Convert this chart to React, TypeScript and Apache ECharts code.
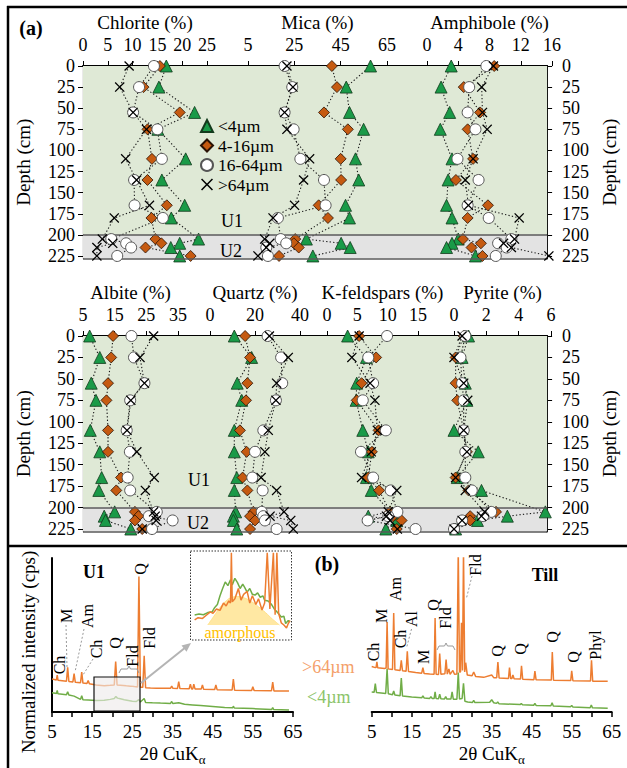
import React, { useEffect, useRef } from 'react';
import * as echarts from 'echarts';

const FONT = "'Liberation Serif', 'Times New Roman', Times, serif";

// ---------- depth profile data ----------
const depths = [0, 25, 55, 75, 110, 135, 165, 180, 205, 210, 215, 225];
const unitBoundary = 200;
const depthMax = 228;
const depthTicks = [0, 25, 50, 75, 100, 125, 150, 175, 200, 225];
const fractions = ['<4µm', '4-16µm', '16-64µm', '>64µm'];

const chlorite4 = [16.8, 15.3, 22.5, 15.1, 20.7, 15.9, 20.5, 17.8, 23.3, 19.5, 17.7, 19.5];
const chlorite16 = [15.5, 12.2, 19.5, 13.0, 13.9, 13.0, 16.9, 13.8, 14.6, 15.8, 12.6, 21.7];
const chlorite64 = [14.3, 11.3, 10.1, 15.0, 15.9, 10.3, 10.4, 16.1, 5.7, 8.7, 9.7, 6.9];
const chloriteXL = [9.3, 7.4, 10.1, 12.8, 8.6, 10.8, 13.4, 6.3, 3.9, 6.0, 2.8, 2.8];

const mica4 = [57.9, 47.4, 48.8, 54.9, 51.4, 52.8, 47.1, 48.8, 30.2, 45.2, 49.1, 33.0];
const mica16 = [41.2, 43.4, 37.8, 48.1, 45.0, 45.2, 35.5, 39.5, 25.4, 24.8, 26.9, 18.4];
const mica64 = [20.8, 24.1, 20.8, 24.7, 27.6, 37.8, 38.5, 17.9, 19.1, 21.5, 12.9, 13.6];
const micaXL = [21.8, 24.4, 20.8, 21.8, 31.6, 29.0, 25.1, 15.8, 12.2, 14.4, 12.9, 9.3];

const amph4 = [3.1, 1.8, 2.9, 1.7, 3.2, 2.7, 2.5, 3.2, 4.0, 3.2, 2.5, 6.2];
const amph16 = [8.6, 4.7, 6.8, 5.2, 5.9, 3.7, 7.8, 5.2, 4.6, 6.9, 5.7, 7.1];
const amph64 = [7.6, 5.4, 5.2, 6.2, 3.9, 6.6, 5.2, 7.9, 10.8, 9.1, 10.2, 8.8];
const amphXL = [8.5, 7.0, 7.1, 7.7, 5.9, 4.9, 5.3, 11.8, 11.2, 9.8, 10.8, 15.6];

const albite4 = [7.1, 10.3, 7.6, 9.1, 7.3, 10.3, 10.9, 10.0, 15.0, 11.7, 12.1, 20.1];
const albite16 = [14.5, 13.9, 12.9, 12.4, 12.9, 12.9, 17.0, 15.5, 21.4, 22.5, 21.4, 23.7];
const albite64 = [20.3, 21.1, 24.4, 19.9, 18.8, 19.8, 19.1, 19.9, 28.3, 25.8, 33.3, 26.8];
const albiteXL = [27.3, 23.0, 24.4, 20.1, 18.9, 22.0, 27.5, 24.7, 27.3, 27.8, 28.1, 23.7];

const quartz4 = [10.8, 18.5, 12.1, 14.1, 10.8, 10.8, 11.9, 10.8, 11.4, 10.4, 10.4, 11.9];
const quartz16 = [15.6, 17.8, 16.6, 16.0, 13.3, 16.3, 14.5, 16.6, 19.3, 17.8, 20.0, 17.8];
const quartz64 = [25.6, 31.6, 32.1, 29.3, 23.7, 20.0, 18.8, 23.4, 23.0, 23.7, 24.4, 29.6];
const quartzXL = [26.4, 34.8, 29.6, 29.3, 25.9, 24.4, 22.7, 29.6, 32.9, 26.7, 35.9, 37.0];

const kfeld4 = [3.4, 6.5, 4.9, 4.8, 5.9, 6.8, 6.5, 7.3, 10.4, 6.8, 11.5, 9.7];
const kfeld16 = [5.3, 8.1, 5.7, 4.9, 8.5, 7.4, 6.8, 8.6, 10.4, 10.9, 12.3, 11.5];
const kfeld64 = [9.9, 6.8, 7.6, 5.9, 9.7, 5.6, 7.6, 10.5, 11.6, 10.1, 6.7, 14.6];
const kfeldXL = [5.3, 4.1, 7.1, 7.9, 8.3, 7.3, 5.7, 11.5, 10.1, 9.8, 10.4, 11.6];

const pyrite4 = [0.9, 0.5, 0.7, 0.8, 0.0, 1.5, 0.2, 1.7, 5.65, 3.3, 1.45, 0.1];
const pyrite16 = [0.6, 0.1, 0.1, 0.2, 0.6, 0.8, 0.1, 0.9, 2.6, 1.0, 1.0, 0.0];
const pyrite64 = [0.7, 0.4, 0.5, 0.6, 0.6, 0.7, 0.7, 1.1, 2.3, 1.8, 0.5, 0.0];
const pyriteXL = [0.5, 0.0, 0.6, 0.85, 0.6, 0.8, 0.1, 0.7, 1.9, 1.7, 0.5, 0.0];

// ---------- XRD data: [2theta, normalized intensity] ----------
const u1Coarse = [
  [5, 21.5], [5.8, 21], [6.1, 20.8], [6.3, 24], [6.5, 20.6], [8.6, 20], [8.9, 29], [9.2, 19.8], [10.2, 19.5],
  [10.5, 25], [10.8, 19.3], [12.1, 19], [12.4, 26], [12.7, 18.8], [13.7, 18.5], [14, 20.5], [14.3, 18.3],
  [16, 17.5], [18, 17], [19.5, 17.3], [20.5, 17.6], [20.85, 32.7], [21.2, 17.6], [22, 17.4], [23.5, 17],
  [24.5, 16.8], [25.5, 16.5], [26.3, 16.3], [26.64, 88], [27, 16], [27.6, 16], [27.95, 36.5], [28.3, 15.8],
  [29.5, 15.6], [31, 15.5], [34.5, 15.4], [34.8, 16.9], [35.1, 15.4], [36.25, 15.3], [36.55, 19.7],
  [36.85, 15.2], [39.15, 15.1], [39.45, 18], [39.75, 15], [40.05, 15], [40.3, 18], [40.6, 15], [42.15, 14.9],
  [42.45, 17.5], [42.75, 14.8], [45.5, 14.6], [45.8, 17.5], [46.1, 14.5], [49.85, 14.3], [50.15, 21.4],
  [50.45, 14.2], [54.7, 14], [55, 16.4], [55.3, 13.9], [59.65, 13.8], [59.95, 19.4], [60.25, 13.7], [64, 13.6],
];
const u1Fine = [
  [5, 12.5], [5.8, 12.2], [6.1, 12], [6.3, 14], [6.5, 11.8], [8.6, 11.2], [8.9, 13.2], [9.2, 11], [10.5, 10.3],
  [12.1, 8.2], [12.4, 10.5], [12.7, 8], [14, 7.8], [16, 7.5], [18, 7.6], [19.5, 8.2], [20.5, 8.8], [20.9, 10],
  [21.3, 9], [22, 8.6], [23, 8], [24, 7.5], [25, 7], [26, 6.8], [26.6, 8], [27, 6.5], [27.95, 8.8], [28.3, 6.2],
  [30, 6], [32, 5.8], [34.5, 5.6], [34.8, 6.8], [35.1, 5.5], [36.55, 6], [38, 5], [40, 4.6], [42, 4.2],
  [45, 3.6], [48, 3], [50, 2.7], [50.15, 3.8], [50.4, 2.6], [55, 2.2], [59.7, 1.7], [59.95, 2.8], [60.2, 1.6],
  [64, 1.3],
];
const tillCoarse = [
  [5, 29.5], [5.9, 28.8], [6.1, 29], [6.3, 32.5], [6.5, 28.7], [8.2, 28.3], [8.6, 28.5], [8.85, 58.4], [9.1, 28],
  [10.2, 27.6], [10.5, 64.3], [10.8, 27.4], [12.1, 27], [12.4, 33.5], [12.7, 26.8], [13.6, 26.5], [13.9, 39.4],
  [14.2, 26.3], [16, 25.6], [17.5, 25.2], [17.8, 28.8], [18.1, 25], [19.5, 24.7], [20.6, 24.5], [20.85, 61],
  [21.1, 24.5], [21.7, 24.4], [22, 38], [22.3, 24.5], [23.3, 24.8], [23.6, 34], [23.9, 24.6], [24.3, 28],
  [24.6, 24.4], [25.3, 27], [25.7, 24.5], [26.3, 24.6], [26.64, 105], [26.95, 26], [27.2, 26], [27.45, 58],
  [27.7, 27], [27.95, 105], [28.25, 26], [28.5, 32], [28.9, 24], [30.1, 23.5], [30.5, 26], [31, 23],
  [33, 22.5], [35, 24], [35.5, 22.3], [36.25, 22.2], [36.55, 32.5], [36.85, 22.1], [39.2, 21.8], [39.45, 28.8],
  [39.75, 21.7], [40.05, 21.7], [40.3, 24], [40.6, 21.6], [42.2, 21.4], [42.45, 30], [42.75, 21.3],
  [45.55, 21], [45.8, 26.6], [46.1, 20.9], [49.9, 20.7], [50.15, 39], [50.45, 20.6], [54.75, 20.4], [55, 26.8],
  [55.3, 20.3], [59.7, 20.1], [59.95, 33.5], [60.25, 20], [64, 19.9],
];
const tillFine = [
  [5, 13], [5.6, 12.8], [5.9, 18.4], [6.2, 12.6], [8.5, 12], [8.85, 28], [9.15, 11.8], [10.2, 11.2], [10.5, 13.6],
  [10.8, 11], [12.1, 10.6], [12.4, 22], [12.7, 10.4], [15, 9.7], [17.5, 9.2], [17.8, 10.5], [18.1, 9.1],
  [19.5, 8.8], [19.8, 10], [20.1, 8.8], [20.6, 8.7], [20.85, 13], [21.1, 8.7], [21.7, 8.6], [22, 11.5],
  [22.3, 8.6], [23.2, 8.5], [23.5, 10], [23.8, 8.4], [24.8, 8.4], [25.1, 13], [25.4, 8.3], [26.3, 8.3],
  [26.64, 25.6], [26.95, 8.5], [27.6, 8.8], [27.95, 18.6], [28.3, 7], [29, 6.5], [30.2, 6.2], [30.5, 7.5],
  [30.8, 6.1], [34.5, 6.3], [35, 8], [35.5, 6], [36.2, 5.6], [36.5, 6.5], [36.8, 5.4], [42.1, 4.8],
  [42.4, 5.5], [42.7, 4.7], [45.5, 4.4], [45.8, 5.5], [46.1, 4.3], [49.8, 4], [50.1, 6], [50.4, 3.9],
  [54.7, 3.4], [55, 4.2], [55.3, 3.3], [59.6, 2.8], [59.9, 4.5], [60.2, 2.7], [64, 2.4],
];
// inset (magnified 16–27° region)
const insetFine = [
  [16.3, 13.7], [16.8, 15], [17.3, 14], [17.8, 17], [18.3, 18], [18.6, 24], [18.9, 28], [19.2, 40], [19.5, 50],
  [19.8, 59], [20.1, 54], [20.4, 62], [20.6, 55], [20.9, 64], [21.2, 58], [21.5, 50], [21.8, 56], [22, 52],
  [22.3, 45], [22.6, 50], [22.9, 42], [23.2, 41], [23.5, 44], [23.8, 38], [24.1, 40], [24.3, 34], [24.7, 33],
  [25.1, 28], [25.4, 22], [25.7, 18], [26, 14], [26.2, 11], [26.5, 12], [26.7, 2], [27, 6], [27.2, 4.5],
];
const insetCoarse = [
  [16.3, 7], [16.7, 10], [17.2, 9], [17.6, 13], [18.1, 18], [18.4, 16], [18.8, 22], [19.2, 20], [19.6, 30],
  [19.9, 26], [20.2, 33], [20.4, 30], [20.5, 99], [20.6, 32], [20.9, 36], [21.3, 50], [21.6, 34], [21.9, 42],
  [22.3, 46], [22.6, 30], [22.9, 40], [23.3, 28], [23.6, 36], [24, 20.5], [24.3, 30], [24.6, 99], [24.9, 22],
  [25.3, 99], [25.5, 14], [25.7, 99], [25.9, 16], [26.2, 3], [26.5, 0], [26.8, -4], [27.0, 2], [27.2, 6],
];
const insetAmorphous = [
  [17.8, 0], [18.5, 12], [19.2, 24], [19.9, 33], [20.6, 38], [21.2, 39], [22, 37], [22.8, 32], [23.6, 25],
  [24.4, 17], [25.2, 8], [26, 0],
];
const twoThetaLabels = [5, 15, 25, 35, 45, 55, 65];
const twoThetaTicks = [5, 10, 15, 20, 25, 30, 35, 40, 45, 50, 55, 60, 65];

// ---------- styles ----------
const XPATH = 'path://M0,0.9L0.9,0L5,4.1L9.1,0L10,0.9L5.9,5L10,9.1L9.1,10L5,5.9L0.9,10L0,9.1L4.1,5Z';
const markerStyles = [
  { symbol: 'triangle', size: 12, color: '#1a9a48', border: '#123a1c', bw: 0.8 },
  { symbol: 'diamond', size: 11, color: '#c55a11', border: '#2a1204', bw: 0.8 },
  { symbol: 'circle', size: 11, color: '#ffffff', border: '#555555', bw: 1 },
  { symbol: XPATH, size: 10, color: '#000000', border: '#000000', bw: 0 },
];
const ORANGE = '#ed7d31';
const GREEN = '#70ad47';

const txt = (text: string, x: number, y: number, size: number, opts: any = {}) => ({
  type: 'text',
  x,
  y,
  rotation: opts.rotate ? Math.PI / 2 : 0,
  z: 60,
  silent: true,
  style: {
    text,
    fill: opts.color || '#000',
    font: `${opts.bold ? 'bold ' : ''}${size}px ${FONT}`,
    align: opts.align || 'center',
    textAlign: opts.align || 'center',
    verticalAlign: 'middle',
    textVerticalAlign: 'middle',
  },
});
const dline = (x1: number, y1: number, x2: number, y2: number) => ({
  type: 'line', z: 55, silent: true,
  shape: { x1, y1, x2, y2 },
  style: { stroke: '#9a9a9a', lineWidth: 1, lineDash: [2, 2] },
});
const brace = (xa: number, xb: number, y: number) => {
  const m = (xa + xb) / 2;
  return {
    type: 'polyline', z: 55, silent: true,
    shape: { points: [[xa, y + 4], [xa + 2, y], [m - 1.5, y], [m, y - 3], [m + 1.5, y], [xb - 2, y], [xb, y + 4]] },
    style: { stroke: '#9a9a9a', lineWidth: 1, fill: 'none' },
  };
};

function buildOption() {
  const ROW1 = { top: 66, height: 192.5 };
  const ROW2 = { top: 336, height: 195.6 };
  const grid: any[] = [
    { left: 83, width: 469, ...ROW1 },
    { left: 83, width: 124, ...ROW1 },
    { left: 248, width: 139, ...ROW1 },
    { left: 427, width: 125, ...ROW1 },
    { left: 83, width: 469, ...ROW2 },
    { left: 83, width: 95, ...ROW2 },
    { left: 210, width: 90, ...ROW2 },
    { left: 327, width: 111, ...ROW2 },
    { left: 454, width: 97, ...ROW2 },
    { left: 52, top: 558, width: 241, height: 154 },
    { left: 371.7, top: 558, width: 240, height: 154 },
    { left: 192, top: 552, width: 98, height: 80.3 },
  ];

  const panels = [
    { g: 1, name: 'Chlorite (%)', min: 0, max: 25, ticks: [0, 5, 10, 15, 20, 25], vals: [chlorite4, chlorite16, chlorite64, chloriteXL] },
    { g: 2, name: 'Mica (%)', min: 5, max: 65, ticks: [5, 25, 45, 65], vals: [mica4, mica16, mica64, micaXL] },
    { g: 3, name: 'Amphibole (%)', min: 0, max: 16, ticks: [0, 4, 8, 12, 16], vals: [amph4, amph16, amph64, amphXL] },
    { g: 5, name: 'Albite (%)', min: 5, max: 35, ticks: [5, 15, 25, 35], vals: [albite4, albite16, albite64, albiteXL] },
    { g: 6, name: 'Quartz (%)', min: 0, max: 40, ticks: [0, 20, 40], vals: [quartz4, quartz16, quartz64, quartzXL] },
    { g: 7, name: 'K-feldspars (%)', min: 0, max: 18.3, ticks: [0, 5, 10, 15], vals: [kfeld4, kfeld16, kfeld64, kfeldXL] },
    { g: 8, name: 'Pyrite (%)', min: 0, max: 6, ticks: [0, 2, 4, 6], vals: [pyrite4, pyrite16, pyrite64, pyriteXL] },
  ];

  const xAxis: any[] = [];
  const yAxis: any[] = [];
  const hiddenX = (gi: number, min: number, max: number) => ({ type: 'value', gridIndex: gi, min, max, show: false });
  const hiddenY = (gi: number, min: number, max: number, inverse = false) => ({ type: 'value', gridIndex: gi, min, max, inverse, show: false });
  const topLine = (gi: number) => ({
    type: 'value', gridIndex: gi, position: 'top', min: 0, max: 1,
    axisLine: { show: true, onZero: false, lineStyle: { color: '#000', width: 2 } },
    axisTick: { show: false }, axisLabel: { show: false }, splitLine: { show: false },
  });
  const depthAxis = (gi: number, pos: 'left' | 'right') => ({
    type: 'value', gridIndex: gi, position: pos, min: 0, max: depthMax, inverse: true,
    name: 'Depth (cm)', nameLocation: 'middle', nameRotate: 90, nameGap: pos === 'left' ? 50 : 52,
    nameTextStyle: { fontSize: 19, fontFamily: FONT, color: '#000' },
    axisLine: { show: true, onZero: false, lineStyle: { color: pos === 'left' ? '#333' : '#000', width: pos === 'left' ? 1.2 : 2 } },
    axisTick: { show: true, length: 5, lineStyle: { color: '#000' }, customValues: depthTicks },
    axisLabel: { show: true, fontSize: 18, fontFamily: FONT, color: '#000', margin: pos === 'left' ? 8 : 15, customValues: depthTicks },
    splitLine: { show: false },
  });

  for (let gi = 0; gi < grid.length; gi++) {
    const p = panels.find((q) => q.g === gi);
    if (gi === 0 || gi === 4) {
      xAxis.push(topLine(gi));
      yAxis.push(depthAxis(gi, 'left'));
    } else if (p) {
      xAxis.push({
        type: 'value', gridIndex: gi, position: 'top', min: p.min, max: p.max,
        name: p.name, nameLocation: 'middle', nameGap: 34,
        nameTextStyle: { fontSize: 19, fontFamily: FONT, color: '#000' },
        axisLine: { show: false, onZero: false },
        axisTick: { show: true, length: 5, lineStyle: { color: '#000', width: 1 }, customValues: p.ticks },
        axisLabel: { show: true, fontSize: 18, fontFamily: FONT, color: '#000', margin: 12, customValues: p.ticks },
        splitLine: { show: false },
      });
      yAxis.push(hiddenY(gi, 0, depthMax, true));
    } else if (gi === 9 || gi === 10) {
      xAxis.push({
        type: 'value', gridIndex: gi, position: 'bottom', min: 5, max: 65,
        name: '2θ CuK{s|α}', nameLocation: 'middle', nameGap: 26,
        nameTextStyle: {
          fontSize: 19, fontFamily: FONT, color: '#000', lineHeight: 24,
          rich: { s: { fontSize: 13, fontFamily: FONT, lineHeight: 13, verticalAlign: 'bottom', color: '#000' } },
        },
        axisLine: { show: true, onZero: false, lineStyle: { color: '#000', width: 2 } },
        axisTick: { show: true, length: 5, lineStyle: { color: '#000', width: 1.5 }, customValues: twoThetaTicks },
        axisLabel: { show: true, fontSize: 19, fontFamily: FONT, color: '#000', margin: 10, customValues: twoThetaLabels },
        splitLine: { show: false },
      });
      if (gi === 9) {
        yAxis.push({
          type: 'value', gridIndex: gi, min: 0, max: 100,
          axisLine: { show: true, onZero: false, lineStyle: { color: '#000', width: 2 } },
          axisTick: { show: false }, axisLabel: { show: false }, splitLine: { show: false },
        });
      } else {
        yAxis.push(hiddenY(gi, 0, 100));
      }
    } else {
      xAxis.push(hiddenX(gi, 16, 27.2));
      yAxis.push(hiddenY(gi, -10, 100));
    }
  }
  yAxis.push(depthAxis(0, 'right')); // 12
  yAxis.push(depthAxis(4, 'right')); // 13

  const series: any[] = [];
  [0, 4].forEach((gi) => {
    series.push({
      type: 'line', name: `bg${gi}`, xAxisIndex: gi, yAxisIndex: gi, data: [[0.5, 0]],
      symbol: 'none', lineStyle: { opacity: 0 }, silent: true, z: 0,
      markArea: {
        silent: true,
        data: [
          [{ yAxis: 0, itemStyle: { color: '#dfe9d6' } }, { yAxis: unitBoundary }],
          [{ yAxis: unitBoundary, itemStyle: { color: '#e3e3e3' } }, { yAxis: depthMax }],
        ],
      },
      markLine: {
        silent: true, symbol: ['none', 'none'], label: { show: false },
        lineStyle: { color: '#5a5a5a', width: 1.5, type: 'solid' },
        data: [{ yAxis: unitBoundary }, { yAxis: depthMax }],
      },
    });
  });

  panels.forEach((p) => {
    p.vals.forEach((vals, fi) => {
      series.push({
        type: 'line', name: `${p.name}-${fi}-line`, xAxisIndex: p.g, yAxisIndex: p.g,
        data: vals.map((v, i) => [v, depths[i]]), symbol: 'none', clip: false, silent: true, z: 2,
        lineStyle: { color: '#1a1a1a', width: 1.1, type: [1.3, 2.2] },
      });
    });
  });
  panels.forEach((p) => {
    p.vals.forEach((vals, fi) => {
      const m = markerStyles[fi];
      series.push({
        type: 'scatter', name: fractions[fi], xAxisIndex: p.g, yAxisIndex: p.g,
        data: vals.map((v, i) => [v, depths[i]]), symbol: m.symbol, symbolSize: m.size, clip: false, z: 3 + fi,
        itemStyle: { color: m.color, borderColor: m.border, borderWidth: m.bw, opacity: 1 },
      });
    });
  });

  const xrdLine = (name: string, gi: number, data: number[][], color: string, z = 4) => ({
    type: 'line', name, xAxisIndex: gi, yAxisIndex: gi, data, symbol: 'none', silent: true, z,
    lineStyle: { color, width: 1.5 },
  });
  series.push(xrdLine('u1-fine', 9, u1Fine, GREEN));
  series.push(xrdLine('u1-coarse', 9, u1Coarse, ORANGE, 5));
  series.push(xrdLine('till-fine', 10, tillFine, GREEN));
  series.push(xrdLine('till-coarse', 10, tillCoarse, ORANGE, 5));
  series.push({
    type: 'line', name: 'amorphous', xAxisIndex: 11, yAxisIndex: 11, data: insetAmorphous, symbol: 'none',
    smooth: true, silent: true, z: 3, lineStyle: { color: '#ffe08a', width: 1 },
    areaStyle: { color: '#ffe699', opacity: 0.9 },
  });
  series.push(xrdLine('inset-fine', 11, insetFine, GREEN));
  series.push(xrdLine('inset-coarse', 11, insetCoarse, ORANGE, 5));

  const graphic: any[] = [
    // frame
    { type: 'line', z: 70, silent: true, shape: { x1: 7, y1: 7, x2: 627, y2: 7 }, style: { stroke: '#000', lineWidth: 2.5 } },
    { type: 'line', z: 70, silent: true, shape: { x1: 8, y1: 6, x2: 8, y2: 768 }, style: { stroke: '#000', lineWidth: 2.5 } },
    { type: 'line', z: 70, silent: true, shape: { x1: 7, y1: 546, x2: 627, y2: 546 }, style: { stroke: '#000', lineWidth: 2.5 } },
    txt('(a)', 31, 28, 20, { bold: true }),
    txt('U1', 232, 221, 18),
    txt('U2', 231, 251, 18),
    txt('U1', 199, 480, 18),
    txt('U2', 198, 523, 18),
    txt('(b)', 327, 564, 20, { bold: true }),
    txt('Till', 545, 575, 18, { bold: true }),
    txt('U1', 94, 572, 18, { bold: true }),
    txt('>64µm', 302, 667, 18, { color: '#f4a06a', align: 'left' }),
    txt('<4µm', 307, 697, 18, { color: '#8cc46a', align: 'left' }),
    txt('Normalized intensity (cps)', 28, 652, 19, { rotate: true }),
    // zoom box + arrow + inset frame
    {
      type: 'rect', z: 50, silent: true, shape: { x: 94, y: 677, width: 46, height: 34 },
      style: { fill: 'rgba(238,234,234,0.62)', stroke: '#111', lineWidth: 1.2 },
    },
    { type: 'line', z: 50, silent: true, shape: { x1: 141, y1: 683, x2: 186, y2: 647 }, style: { stroke: '#b4b4b4', lineWidth: 2 } },
    { type: 'polygon', z: 50, silent: true, shape: { points: [[191, 643], [186.5, 651.7], [181.5, 645.5]] }, style: { fill: '#b4b4b4' } },
    {
      type: 'rect', z: 50, silent: true, shape: { x: 190.5, y: 551, width: 101, height: 89 },
      style: { fill: 'none', stroke: '#333', lineWidth: 1, lineDash: [1.5, 1.5] },
    },
    txt('amorphous', 240, 632, 16, { color: '#ffc000' }),
    // U1 peak labels
    txt('Ch', 59, 665, 16, { rotate: true }),
    txt('M', 66, 616, 16, { rotate: true }),
    txt('Am', 87, 616, 16, { rotate: true }),
    txt('Ch', 96, 649, 16, { rotate: true }),
    txt('Q', 115, 643, 16, { rotate: true }),
    txt('Fld', 132, 656, 16, { rotate: true }),
    txt('Q', 140, 569, 16, { rotate: true }),
    txt('Fld', 149, 638, 16, { rotate: true }),
    dline(66, 625, 67, 667),
    dline(84, 629, 75, 672),
    dline(93, 659, 83, 675),
    brace(119, 139, 669),
    // Till peak labels
    txt('Ch', 373, 652, 16, { rotate: true }),
    txt('M', 381, 616, 16, { rotate: true }),
    txt('Am', 395, 589, 16, { rotate: true }),
    txt('Ch', 400, 639, 16, { rotate: true }),
    txt('Al', 411, 619, 16, { rotate: true }),
    txt('M', 423, 657, 16, { rotate: true }),
    txt('Q', 433, 605, 16, { rotate: true }),
    txt('Fld', 445, 618, 16, { rotate: true }),
    txt('Fld', 475, 565, 16, { rotate: true }),
    txt('Q', 497, 651, 16, { rotate: true }),
    txt('Q', 520, 649, 16, { rotate: true }),
    txt('Q', 552, 637, 16, { rotate: true }),
    txt('Q', 573, 657, 16, { rotate: true }),
    txt('Phyl', 595, 645, 16, { rotate: true }),
    dline(411.5, 629, 406.5, 648),
    dline(472, 576, 466.5, 598),
    brace(437, 455, 646),
  ];

  return {
    animation: false,
    backgroundColor: '#ffffff',
    textStyle: { fontFamily: FONT },
    grid,
    xAxis,
    yAxis,
    series,
    graphic,
    legend: {
      data: fractions,
      orient: 'vertical',
      left: 200,
      top: 117,
      padding: 0,
      itemGap: 1.5,
      itemWidth: 12,
      itemHeight: 12,
      selectedMode: false,
      textStyle: { fontSize: 17.5, fontFamily: FONT, color: '#000' },
    },
  };
}

export default function App() {
  const ref = useRef<HTMLDivElement>(null);
  useEffect(() => {
    if (!ref.current) return;
    const chart = echarts.init(ref.current, undefined, { renderer: 'svg' });
    chart.setOption(buildOption() as any);
    return () => chart.dispose();
  }, []);
  return (
    <div
      ref={ref}
      style={{ position: 'absolute', left: 0, top: 0, width: 627, height: 768, background: '#fff' }}
    />
  );
}
